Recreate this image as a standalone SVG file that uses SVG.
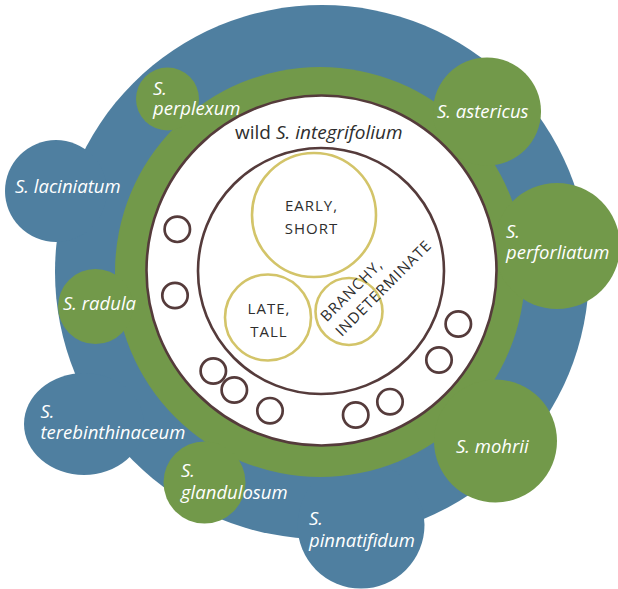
<svg xmlns="http://www.w3.org/2000/svg" width="618" height="589" viewBox="0 0 618 589">
<style>
.blue{fill:#4F7FA0}
.green{fill:#72994A}
.lbl{font-family:"Open Sans","Liberation Sans",sans-serif;font-style:italic;font-size:18.5px;fill:#FFFFFF}
.wild{font-family:"Open Sans","Liberation Sans",sans-serif;font-size:19px;fill:#2E2E2E}
.cap{font-family:"Open Sans","Liberation Sans",sans-serif;font-size:15px;letter-spacing:1px;fill:#2E2E2E}
.ring{fill:none;stroke:#553B3B;stroke-width:2.6}
.yel{fill:#FFFFFF;stroke:#D3C469;stroke-width:2.6}
.sm{fill:none;stroke:#553B3B;stroke-width:2.7}
</style>
<g id="outer-pool">
<circle class="blue" cx="322" cy="272" r="267"/>
</g>
<g id="laciniatum">
<circle class="blue" cx="56" cy="191" r="51"/>
<text class="lbl" x="15" y="193">S. laciniatum</text>
</g>
<g id="terebinthinaceum">
<ellipse class="blue" cx="84" cy="424" rx="60" ry="51"/>
<text class="lbl" x="40.5" y="418.3">S.</text>
<text class="lbl" x="40.5" y="439.3">terebinthinaceum</text>
</g>
<g id="pinnatifidum">
<circle class="blue" cx="361" cy="525" r="63.5"/>
<text class="lbl" x="309" y="525">S.</text>
<text class="lbl" x="309" y="547.3">pinnatifidum</text>
</g>
<g id="inner-pool">
<circle class="green" cx="320" cy="272" r="205"/>
</g>
<g id="perplexum">
<circle class="green" cx="167.5" cy="99" r="31.5"/>
<text class="lbl" x="153" y="94.5">S.</text>
<text class="lbl" x="153" y="114.5">perplexum</text>
</g>
<g id="astericus">
<circle class="green" cx="487" cy="111.5" r="54"/>
<text class="lbl" x="437" y="118">S. astericus</text>
</g>
<g id="perforliatum">
<circle class="green" cx="557" cy="246" r="63"/>
<text class="lbl" x="506" y="238.3">S.</text>
<text class="lbl" x="506" y="259">perforliatum</text>
</g>
<g id="radula">
<circle class="green" cx="95.5" cy="306.5" r="37.5"/>
<text class="lbl" x="63" y="310">S. radula</text>
</g>
<g id="glandulosum">
<circle class="green" cx="204.5" cy="482.5" r="41"/>
<text class="lbl" x="181" y="477.3">S.</text>
<text class="lbl" x="181" y="499.3">glandulosum</text>
</g>
<g id="mohrii">
<circle class="green" cx="495.5" cy="441" r="61.5"/>
<text class="lbl" x="456" y="452.7">S. mohrii</text>
</g>
<g id="wild">
<circle fill="#FFFFFF" stroke="#553B3B" stroke-width="2.6" cx="321.5" cy="270.5" r="175"/>
<text class="wild" x="235" y="138.5">wild <tspan font-style="italic">S. integrifolium</tspan></text>
</g>
<g id="cultivated">
<circle class="ring" cx="321" cy="271" r="123"/>
</g>
<g id="early-short">
<circle class="yel" cx="314" cy="215" r="62"/>
<text class="cap" x="311.5" y="210.5" text-anchor="middle">EARLY,</text>
<text class="cap" x="311.5" y="233.5" text-anchor="middle">SHORT</text>
</g>
<g id="late-tall">
<circle class="yel" cx="268" cy="317.5" r="43"/>
<text class="cap" x="269" y="314" text-anchor="middle">LATE,</text>
<text class="cap" x="269" y="337.3" text-anchor="middle">TALL</text>
</g>
<g id="branchy">
<circle class="yel" cx="349" cy="311.5" r="33.5"/>
<g transform="translate(341.7,337.3) rotate(-45)">
<text class="cap" x="0" y="-21">BRANCHY,</text>
<text class="cap" x="0" y="0">INDETERMINATE</text>
</g>
</g>
<g id="landraces">
<circle class="sm" cx="177.3" cy="229.3" r="12.7"/>
<circle class="sm" cx="175" cy="295.5" r="12.7"/>
<circle class="sm" cx="458.3" cy="324" r="12.7"/>
<circle class="sm" cx="439" cy="360" r="12.7"/>
<circle class="sm" cx="390" cy="401.7" r="12.7"/>
<circle class="sm" cx="355.7" cy="415" r="12.7"/>
<circle class="sm" cx="270" cy="410.7" r="12.7"/>
<circle class="sm" cx="234.3" cy="390" r="12.7"/>
<circle class="sm" cx="213.3" cy="371" r="12.7"/>
</g>
<g id="connectors"></g>
</svg>
